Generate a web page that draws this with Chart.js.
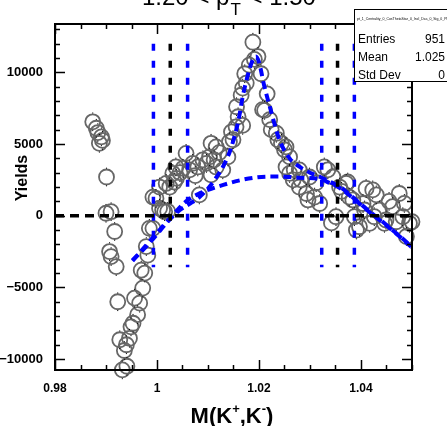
<!DOCTYPE html>
<html>
<head>
<meta charset="utf-8">
<script src="https://cdn.jsdelivr.net/npm/chart.js@4.4.0/dist/chart.umd.min.js"></script>
<style>
  html, body { margin: 0; padding: 0; background: #fff; }
  #wrap { width: 447px; height: 426px; position: relative; }
</style>
</head>
<body>
<div id="wrap"><canvas id="chart" width="447" height="426"></canvas></div>
<script>
// Measured yields per mass bin
const massPoints = [
  0.9874, 0.9881, 0.9884, 0.9887, 0.9891, 0.9893, 0.9900, 0.9901, 0.9907, 0.9910,
  0.9910, 0.9917, 0.9920, 0.9923, 0.9927, 0.9932, 0.9936, 0.9940, 0.9941, 0.9946,
  0.9949, 0.9953, 0.9956, 0.9962, 0.9966, 0.9969, 0.9972, 0.9976, 0.9979, 0.9982,
  0.9985, 0.9992, 0.9992, 0.9998, 1.0005, 1.0005, 1.0011, 1.0015, 1.0018, 1.0021,
  1.0025, 1.0031, 1.0034, 1.0037, 1.0038, 1.0045, 1.0051, 1.0057, 1.0064, 1.0070,
  1.0075, 1.0080, 1.0083, 1.0090, 1.0097, 1.0103, 1.0106, 1.0106, 1.0112, 1.0116,
  1.0116, 1.0122, 1.0129, 1.0139, 1.0142, 1.0146, 1.0149, 1.0155, 1.0156, 1.0159,
  1.0165, 1.0168, 1.0168, 1.0172, 1.0175, 1.0181, 1.0188, 1.0191, 1.0198, 1.0204,
  1.0207, 1.0211, 1.0216, 1.0221, 1.0224, 1.0234, 1.0237, 1.0244, 1.0250, 1.0253,
  1.0253, 1.0260, 1.0260, 1.0267, 1.0269, 1.0279, 1.0279, 1.0282, 1.0293, 1.0296,
  1.0299, 1.0309, 1.0312, 1.0319, 1.0328, 1.0335, 1.0342, 1.0345, 1.0351, 1.0358,
  1.0362, 1.0371, 1.0374, 1.0377, 1.0384, 1.0387, 1.0391, 1.0397, 1.0404, 1.0407,
  1.0410, 1.0417, 1.0423, 1.0426, 1.0430, 1.0436, 1.0446, 1.0449, 1.0455, 1.0462,
  1.0469, 1.0475, 1.0482, 1.0485, 1.0489, 1.0495, 1.0500
]
const yieldPoints = [
  6550, 6100, 5800, 5050, 5500, 5250, 170, 2700, -2500, 280,
  -2850, -1100, -3550, -6000, -8650, -10750, -9400, -9000, -10500, -8550,
  -7750, -7500, -5750, -6900, -6100, -3800, -5050, -4000, -2150, -2750,
  -880, -880, 1300, 1200, 520, 2000, 400, 280, 2250, 300,
  2000, 2950, 2350, 3400, 2600, 3000, 3300, 4350, 3200, 3650,
  2800, 3400, 1450, 3900, 3650, 4100, 5050, 2850, 3900, 3400,
  4800, 4400, 3200, 4100, 5150, 5850, 5300, 6200, 7600, 6900,
  8400, 6300, 8900, 9900, 9250, 10500, 12100, 10900, 11100, 9900,
  7400, 7350, 8500, 6700, 6000, 5750, 5300, 5050, 4600, 4800,
  3400, 2950, 4100, 2500, 3200, 2000, 3200, 2500, 1550, 1100,
  2700, 1300, 2300, 850, 3400, 3200, -500, 2700, -70, 2000,
  1700, 2250, 2350, 1300, 1100, -70, -1000, -770, 850, 400,
  1900, -530, 1800, -70, 1450, 400, -530, -300, 1000, 630,
  -420, 1550, -70, 860, -1450, -530, -420
]
const yieldError = 650

// Fit: signal + background
const fitMass = [
  0.9952, 0.9975, 1.0000, 1.0020, 1.0045, 1.0065, 1.0080, 1.0100, 1.0115, 1.0130,
  1.0145, 1.0160, 1.0168, 1.0178, 1.0187, 1.0194, 1.0200, 1.0210, 1.0222, 1.0240,
  1.0260, 1.0280, 1.0300, 1.0320, 1.0340, 1.0360, 1.0380, 1.0400, 1.0420, 1.0440,
  1.0460, 1.0480, 1.0500
]
const fitYield = [
  -3100, -2300, -1300, -450, 400, 850, 1200, 1900, 2600, 3450,
  4700, 6700, 8300, 9800, 10800, 11100, 10700, 9100, 7500, 5300,
  4000, 3400, 3000, 2700, 2350, 2000, 1400, 800, 200, -350,
  -950, -1550, -2200
]

// Fit: background only
const bkgMass = [
  0.9952, 0.9990, 1.0030, 1.0057, 1.0080, 1.0100, 1.0130, 1.0160, 1.0190, 1.0220,
  1.0250, 1.0280, 1.0320, 1.0340, 1.0360, 1.0380, 1.0400, 1.0420, 1.0440, 1.0460,
  1.0480, 1.0500
]
const bkgYield = [
  -3150, -1600, 0, 1000, 1500, 1800, 2150, 2450, 2650, 2730,
  2720, 2650, 2550, 2250, 1900, 1350, 750, 150, -400, -980,
  -1580, -2220
]

// Side-band and peak window limits
const edgeMass = [0.9993, 1.0026, 1.0060, 1.0323, 1.0354, 1.0387]
const edgeTop = 12000
const edgeBottom = -3600

const xTicks = [0.98, 1.00, 1.02, 1.04]
const xTickLabels = ['0.98', '1', '1.02', '1.04']
const yTicks = [-10000, -5000, 0, 5000, 10000]
const yTickLabels = ['\u221210000', '\u22125000', '0', '5000', '10000']

const xMin = 0.98, xMax = 1.05
const yMin = -10760, yMax = 13370

const stats = [['Entries', '951'], ['Mean', '1.025'], ['Std Dev', '0']]
const statsTitle = 'pt_1_Centrality_0_CosThetaStar_0_Incl_Dca_0_Sig_0_Phi_Norm'

const BLUE = '#0000ff'
const GREY = '#676767'

const points = massPoints.map((m, i) => ({ x: m, y: yieldPoints[i] }))
const toXY = (xs, ys) => xs.map((v, i) => ({ x: v, y: ys[i] }))

const datasets = [
  {
    label: 'data',
    data: points,
    showLine: false,
    pointStyle: 'circle',
    pointRadius: 7.5,
    pointBorderWidth: 1.8,
    pointBorderColor: GREY,
    pointBackgroundColor: 'rgba(0,0,0,0)',
    clip: false,
    order: 10
  },
  {
    label: 'fit',
    data: toXY(fitMass, fitYield),
    showLine: true,
    borderColor: BLUE,
    borderWidth: 4,
    borderDash: [8, 5],
    pointRadius: 0,
    cubicInterpolationMode: 'monotone',
    order: 2
  },
  {
    label: 'bkg',
    data: toXY(bkgMass, bkgYield),
    showLine: true,
    borderColor: BLUE,
    borderWidth: 4,
    borderDash: [8, 5],
    pointRadius: 0,
    cubicInterpolationMode: 'monotone',
    order: 3
  },
  {
    label: 'zero',
    data: [{ x: xMin, y: 0 }, { x: xMax, y: 0 }],
    showLine: true,
    borderColor: '#000',
    borderWidth: 3.5,
    borderDash: [9, 6],
    pointRadius: 0,
    order: 1
  }
]

edgeMass.forEach((m, i) => {
  datasets.push({
    label: 'edge' + i,
    data: [{ x: m, y: edgeTop }, { x: m, y: edgeBottom }],
    showLine: true,
    borderColor: i % 3 === 1 ? '#000' : BLUE,
    borderWidth: 3.5,
    borderDash: [7, 10],
    pointRadius: 0,
    order: 1
  })
})

// error bars, drawn outside the open marker like ROOT does
const errorBars = {
  id: 'errorBars',
  afterDatasetDraw(chart, args) {
    if (args.index !== 0) return
    const { ctx, scales: { x, y } } = chart
    ctx.save()
    ctx.strokeStyle = '#000'
    ctx.lineWidth = 1
    const r = 8.3
    points.forEach(p => {
      const px = x.getPixelForValue(p.x)
      const py = y.getPixelForValue(p.y)
      const e = Math.abs(y.getPixelForValue(p.y + yieldError) - py)
      if (e <= r) return
      ctx.beginPath()
      ctx.moveTo(px, py - e); ctx.lineTo(px, py - r)
      ctx.moveTo(px, py + r); ctx.lineTo(px, py + e)
      ctx.stroke()
    })
    ctx.restore()
  }
}

const frame = {
  id: 'frame',
  afterDraw(chart) {
    const { ctx, chartArea: a, scales: { x, y } } = chart
    ctx.save()
    ctx.strokeStyle = '#000'
    ctx.lineWidth = 1.5
    ctx.beginPath()
    // x ticks every 0.005, major every 0.02
    for (let i = 0; i <= 14; i++) {
      const px = Math.round(x.getPixelForValue(xMin + i * 0.005)) + 0.5
      const len = i % 4 === 0 ? 10 : 5
      ctx.moveTo(px, a.bottom); ctx.lineTo(px, a.bottom - len)
      ctx.moveTo(px, a.top); ctx.lineTo(px, a.top + len)
    }
    // y ticks every 1000, major every 5000
    for (let v = -10000; v <= 13000; v += 1000) {
      const py = Math.round(y.getPixelForValue(v)) + 0.5
      const len = v % 5000 === 0 ? 10 : 5
      ctx.moveTo(a.left, py); ctx.lineTo(a.left + len, py)
      ctx.moveTo(a.right, py); ctx.lineTo(a.right - len, py)
    }
    ctx.stroke()
    ctx.lineWidth = 2
    ctx.strokeRect(a.left, a.top, a.right - a.left, a.bottom - a.top)

    // title, mostly above the canvas
    ctx.fillStyle = '#000'
    ctx.textBaseline = 'alphabetic'
    ctx.textAlign = 'left'
    ctx.font = '24px "Liberation Sans", Arial, sans-serif'
    let tx = 142
    const parts1 = '1.20 < p'
    ctx.fillText(parts1, tx, 5)
    tx += ctx.measureText(parts1).width
    ctx.font = '17px "Liberation Sans", Arial, sans-serif'
    ctx.fillText('T', tx + 1, 15)
    tx += ctx.measureText('T').width + 2
    ctx.font = '24px "Liberation Sans", Arial, sans-serif'
    ctx.fillText(' < 1.50', tx, 5)

    // axis titles
    ctx.font = 'bold 16px "Liberation Sans", Arial, sans-serif'
    ctx.save()
    ctx.translate(27, 178)
    ctx.rotate(-Math.PI / 2)
    ctx.textAlign = 'center'
    ctx.fillText('Yields', 0, 0)
    ctx.restore()

    const xt = [['M(K', 0], ['+', 1], [',K', 0], ['-', 1], [')', 0]]
    const big = 'bold 22px "Liberation Sans", Arial, sans-serif'
    const small = 'bold 13px "Liberation Sans", Arial, sans-serif'
    let w = 0
    xt.forEach(([s, sup]) => { ctx.font = sup ? small : big; w += ctx.measureText(s).width })
    let cx = 232 - w / 2
    xt.forEach(([s, sup]) => {
      ctx.font = sup ? small : big
      ctx.fillText(s, cx, sup ? 413 : 423)
      cx += ctx.measureText(s).width
    })

    // stats box
    const bx = 354, by = 9
    ctx.fillStyle = '#fff'
    ctx.fillRect(bx, by, 447 - bx, 72)
    ctx.strokeStyle = '#000'
    ctx.lineWidth = 1
    ctx.strokeRect(bx + 0.5, by + 0.5, 447 - bx, 72)
    ctx.fillStyle = '#000'
    ctx.font = '3.5px "Liberation Sans", Arial, sans-serif'
    ctx.fillText(statsTitle, bx + 3, 20)
    ctx.font = '12px "Liberation Sans", Arial, sans-serif'
    stats.forEach(([k, v], i) => {
      const yy = 42.5 + i * 18.4
      ctx.textAlign = 'left'
      ctx.fillText(k, bx + 4, yy)
      ctx.textAlign = 'right'
      ctx.fillText(v, 445, yy)
    })
    ctx.restore()
  }
}

new Chart(document.getElementById('chart'), {
  type: 'scatter',
  data: { datasets },
  options: {
    responsive: false,
    animation: false,
    events: [],
    layout: { padding: { top: 24, right: 35, left: 0, bottom: 0 } },
    plugins: { legend: { display: false }, tooltip: { enabled: false } },
    scales: {
      x: {
        type: 'linear',
        min: xMin,
        max: xMax,
        grid: { display: false },
        border: { display: false },
        afterBuildTicks: s => { s.ticks = xTicks.map(v => ({ value: v })) },
        afterFit: s => { s.height = 56 },
        ticks: {
          padding: 3,
          color: '#000',
          maxRotation: 0,
          font: { family: '"Liberation Sans", Arial, sans-serif', weight: 'bold', size: 12 },
          callback: v => xTickLabels[xTicks.findIndex(t => Math.abs(t - v) < 1e-6)]
        }
      },
      y: {
        type: 'linear',
        min: yMin,
        max: yMax,
        grid: { display: false },
        border: { display: false },
        afterBuildTicks: s => { s.ticks = yTicks.map(v => ({ value: v })) },
        afterFit: s => { s.width = 55 },
        ticks: {
          padding: 4,
          color: '#000',
          font: { family: '"Liberation Sans", Arial, sans-serif', weight: 'bold', size: 13 },
          callback: v => yTickLabels[yTicks.indexOf(v)]
        }
      }
    }
  },
  plugins: [errorBars, frame]
})
</script>
</body>
</html>
